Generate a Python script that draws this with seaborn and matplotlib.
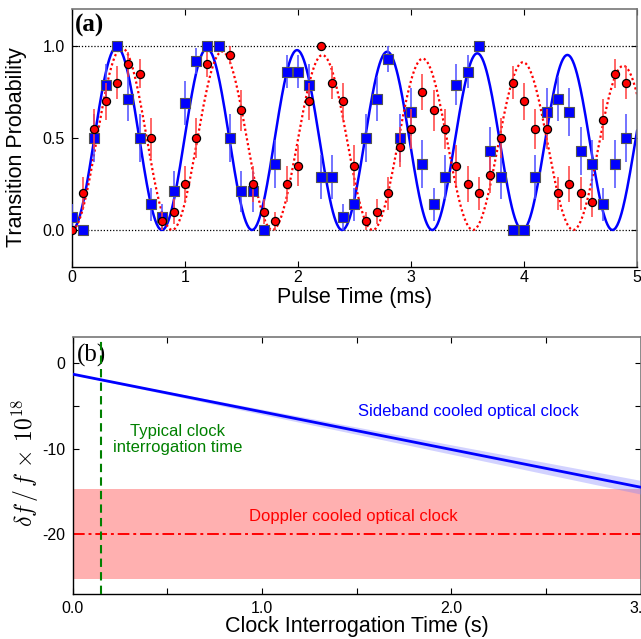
import numpy as np
import pandas as pd
import seaborn as sns
import matplotlib.pyplot as plt
from matplotlib.ticker import MultipleLocator

# ---- panel (a): Rabi flopping data ----
blue_t = [0.0, 0.1, 0.2, 0.3, 0.4, 0.5, 0.6, 0.7, 0.8, 0.9,
          1.0, 1.1, 1.2, 1.3, 1.4, 1.5, 1.6, 1.7, 1.8, 1.9,
          2.0, 2.1, 2.2, 2.3, 2.4, 2.5, 2.6, 2.7, 2.8, 2.9,
          3.0, 3.1, 3.2, 3.3, 3.4, 3.5, 3.6, 3.7, 3.8, 3.9,
          4.0, 4.1, 4.2, 4.3, 4.4, 4.5, 4.6, 4.7, 4.8, 4.9]
blue_p = [0.07, 0.0, 0.5, 0.79, 1.0, 0.71, 0.5, 0.14, 0.07, 0.21,
          0.69, 0.92, 1.0, 1.0, 0.5, 0.21, 0.21, 0.0, 0.36, 0.86,
          0.86, 0.79, 0.29, 0.29, 0.07, 0.14, 0.5, 0.71, 0.93, 0.5,
          0.64, 0.36, 0.14, 0.29, 0.79, 0.86, 1.0, 0.43, 0.29, 0.0,
          0.0, 0.29, 0.64, 0.71, 0.64, 0.43, 0.36, 0.14, 0.36, 0.5]
blue_err = [0.07, 0.02, 0.13, 0.11, 0.02, 0.12, 0.13, 0.09, 0.07, 0.11,
            0.12, 0.07, 0.02, 0.02, 0.13, 0.11, 0.11, 0.02, 0.13, 0.09,
            0.09, 0.11, 0.12, 0.12, 0.07, 0.09, 0.13, 0.12, 0.07, 0.13,
            0.13, 0.13, 0.09, 0.12, 0.11, 0.09, 0.02, 0.13, 0.12, 0.02,
            0.02, 0.12, 0.13, 0.12, 0.13, 0.13, 0.13, 0.09, 0.13, 0.13]

red_t = [0.0, 0.1, 0.2, 0.3, 0.4, 0.5, 0.6, 0.7, 0.8, 0.9,
         1.0, 1.1, 1.2, 1.4, 1.5, 1.6, 1.7, 1.8, 1.9,
         2.0, 2.1, 2.2, 2.3, 2.4, 2.5, 2.6, 2.7, 2.8, 2.9,
         3.0, 3.1, 3.2, 3.3, 3.4, 3.5, 3.6, 3.7, 3.8, 3.9,
         4.0, 4.1, 4.2, 4.3, 4.4, 4.5, 4.6, 4.7, 4.8, 4.9]
red_p = [0.0, 0.2, 0.55, 0.7, 0.8, 0.9, 0.85, 0.5, 0.05, 0.1,
         0.25, 0.5, 0.9, 0.95, 0.65, 0.25, 0.1, 0.05, 0.25,
         0.35, 0.7, 1.0, 0.8, 0.7, 0.35, 0.05, 0.1, 0.2, 0.45,
         0.55, 0.75, 0.65, 0.55, 0.35, 0.25, 0.2, 0.3, 0.5, 0.8,
         0.7, 0.55, 0.55, 0.2, 0.25, 0.2, 0.15, 0.6, 0.85, 0.8]
red_err = [0.02, 0.09, 0.11, 0.1, 0.09, 0.07, 0.08, 0.11, 0.05, 0.07,
           0.1, 0.11, 0.07, 0.05, 0.11, 0.1, 0.07, 0.05, 0.1,
           0.11, 0.1, 0.02, 0.09, 0.1, 0.11, 0.05, 0.07, 0.09, 0.11,
           0.11, 0.1, 0.11, 0.11, 0.11, 0.1, 0.09, 0.1, 0.11, 0.09,
           0.1, 0.11, 0.11, 0.09, 0.1, 0.09, 0.08, 0.11, 0.08, 0.09]

# fit parameters: period (ms), amplitude, amplitude loss per ms
blue_fit = (0.797, 1.0, 0.011)
red_fit = (0.887, 1.0, 0.022)

# ---- panel (b): clock shifts ----
sideband_t = [0.0, 3.0]
sideband_shift = [-1.3, -14.5]
sideband_unc = [0.05, 0.8]
doppler_shift = -20.0
doppler_unc = 5.25
typical_time = 0.15

sns.set_style('ticks')
plt.rcParams['font.family'] = ['Liberation Sans', 'DejaVu Sans']
plt.rcParams['mathtext.fontset'] = 'cm'
plt.rcParams['axes.unicode_minus'] = False
plt.rcParams['xtick.direction'] = 'in'
plt.rcParams['ytick.direction'] = 'in'
for key in ('text.color', 'axes.labelcolor', 'xtick.color', 'ytick.color'):
    plt.rcParams[key] = 'black'

fig = plt.figure(figsize=(6.41, 6.39), dpi=100)
ax1 = fig.add_axes([0.112, 0.5826, 0.882, 0.4028])
ax2 = fig.add_axes([0.1134, 0.07, 0.886, 0.4021])

# fit curves
tt = np.linspace(0, 5, 800)
fits = []
for name, (T, a0, s) in [('blue', blue_fit), ('red', red_fit)]:
    fits.append(pd.DataFrame({'t': tt, 'p': (a0 - s * tt) * np.sin(np.pi * tt / T) ** 2, 'set': name}))
fits = pd.concat(fits)

ax1.axhline(1.0, color='black', ls=(0, (1, 1.5)), lw=0.9, zorder=1)
ax1.axhline(0.0, color='black', ls=(0, (1, 1.5)), lw=0.9, zorder=1)
sns.lineplot(data=fits[fits.set == 'blue'], x='t', y='p', color='#0000ff', lw=1.8, ax=ax1, zorder=2)
sns.lineplot(data=fits[fits.set == 'red'], x='t', y='p', color='#ff0000', lw=1.6, ls=(0, (1, 1.2)), ax=ax1, zorder=2)

ax1.errorbar(blue_t, blue_p, yerr=blue_err, fmt='none', ecolor='#5050ff', alpha=0.8, elinewidth=1.4, zorder=3)
sns.scatterplot(x=blue_t, y=blue_p, marker='s', s=42, color='#0000ff', edgecolor='#555555', linewidth=0.8, ax=ax1, zorder=4)
ax1.errorbar(red_t, red_p, yerr=red_err, fmt='none', ecolor='#ff4040', alpha=0.8, elinewidth=1.4, zorder=5)
sns.scatterplot(x=red_t, y=red_p, marker='o', s=34, color='#ff0000', edgecolor='black', linewidth=0.9, ax=ax1, zorder=6)

ax1.set_xlim(0, 5)
ax1.set_ylim(-0.2, 1.2)
ax1.set_xticks([0, 1, 2, 3, 4, 5])
ax1.set_yticks([0.0, 0.5, 1.0])
ax1.set_yticklabels(['0.0', '0.5', '1.0'])
ax1.tick_params(top=True, right=True, labelsize=11.5, length=4, width=0.8, pad=5)
ax1.tick_params(axis='x', pad=2.5)
ax1.set_xlabel('Pulse Time (ms)', fontsize=15.5)
ax1.set_ylabel('Transition Probability', fontsize=15.5)
ax1.xaxis.set_label_coords(0.5, -0.078)
ax1.yaxis.set_label_coords(-0.079, 0.465)
ax1.text(0.16, 1.115, '(a)', family='Liberation Serif', fontsize=18, fontweight='bold', ha='center', va='center')

# panel (b)
ax2.axhspan(doppler_shift - doppler_unc, doppler_shift + doppler_unc, color='#ffb0b0', lw=0, zorder=1)
ax2.axhline(doppler_shift, color='#ff0000', ls=(0, (6, 2, 1.5, 2)), lw=1.4, zorder=2)
lo = [m - u for m, u in zip(sideband_shift, sideband_unc)]
hi = [m + u for m, u in zip(sideband_shift, sideband_unc)]
ax2.fill_between(sideband_t, lo, hi, color='#8080ff', alpha=0.35, lw=0, zorder=3)
sns.lineplot(x=sideband_t, y=sideband_shift, color='#0000ff', lw=2.0, ax=ax2, zorder=4)
ax2.axvline(typical_time, color='#008000', ls=(0, (4, 2.5)), lw=1.5, zorder=5)

ax2.text(2.09, -5.7, 'Sideband cooled optical clock', color='#0000ff', fontsize=12, ha='center', va='center')
ax2.text(0.556, -8.95, 'Typical clock\ninterrogation time', color='#008000', fontsize=12,
         ha='center', va='center', linespacing=1.1)
ax2.text(1.48, -17.9, 'Doppler cooled optical clock', color='#ff0000', fontsize=12, ha='center', va='center')
ax2.text(0.1, 0.85, '(b)', family='Liberation Serif', fontsize=18, ha='center', va='center')

ax2.set_xlim(0, 3.0)
ax2.set_ylim(-27, 3)
ax2.set_xticks([0, 1, 2, 3])
ax2.set_xticklabels(['0.0', '1.0', '2.0', '3.0'])
ax2.set_yticks([0, -10, -20])
ax2.xaxis.set_minor_locator(MultipleLocator(0.5))
ax2.yaxis.set_minor_locator(MultipleLocator(5))
ax2.tick_params(which='both', top=True, right=True, labelsize=11.5, length=4, width=0.8, pad=5)
ax2.set_xlabel('Clock Interrogation Time (s)', fontsize=15.5)
ax2.set_ylabel(r'$\delta f\,/\,f\,\times\,10^{18}$', fontsize=17)
ax2.xaxis.set_label_coords(0.5, -0.086)
ax2.yaxis.set_label_coords(-0.056, 0.513)

for ax in (ax1, ax2):
    for side in ('top', 'right'):
        ax.spines[side].set_color('#777777')
        ax.spines[side].set_linewidth(1.2)
    for side in ('left', 'bottom'):
        ax.spines[side].set_color('black')
        ax.spines[side].set_linewidth(1.0)

fig.savefig('out.png', dpi=100)
